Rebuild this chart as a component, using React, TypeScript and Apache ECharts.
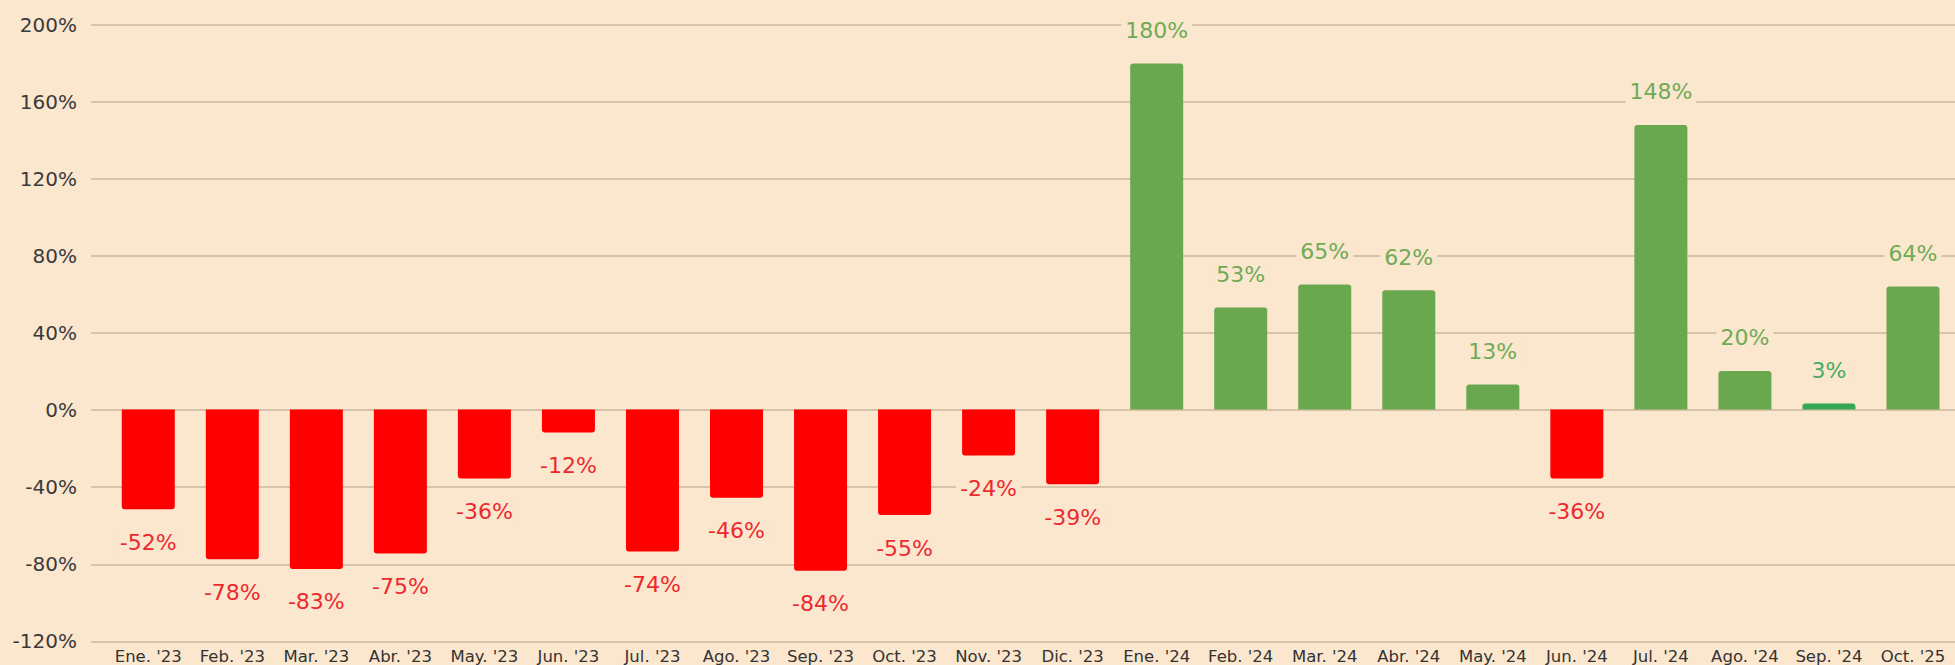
import React, { useEffect, useRef } from "react";
import * as echarts from "echarts";

const categories = [
  "Ene. '23", "Feb. '23", "Mar. '23", "Abr. '23", "May. '23", "Jun. '23",
  "Jul. '23", "Ago. '23", "Sep. '23", "Oct. '23", "Nov. '23", "Dic. '23",
  "Ene. '24", "Feb. '24", "Mar. '24", "Abr. '24", "May. '24", "Jun. '24",
  "Jul. '24", "Ago. '24", "Sep. '24", "Oct. '25",
];
const values = [
  -52, -78, -83, -75, -36, -12, -74, -46, -84, -55, -24, -39,
  180, 53, 65, 62, 13, -36, 148, 20, 3, 64,
];
const yMin = -120;
const yMax = 200;
const yStep = 40;

const BG = "#FBE6CE";
const RED = "#FF0000";
const GREEN = "#6AA84F";
const RED_LABEL = "#EC2A2E";
const GREEN_LABEL = "#6FAB56";
const accent: Record<string, { bar: string; label: string }> = {
  "Sep. '24": { bar: "#34A853", label: "#45AD65" },
};

export default function App() {
  const ref = useRef<HTMLDivElement>(null);
  useEffect(() => {
    if (!ref.current) return;
    const chart = echarts.init(ref.current, null, { renderer: "svg" });
    const top = 25;
    const bottom = 23.7;
    const data = values.map((v, i) => {
      const cat = categories[i];
      const neg = v < 0;
      const acc = accent[cat];
      return {
        value: v,
        itemStyle: {
          color: acc ? acc.bar : neg ? RED : GREEN,
          borderRadius: neg ? [0, 0, 3, 3] : [3, 3, 0, 0],
        },
        label: {
          position: neg ? "bottom" : "top",
          color: acc ? acc.label : neg ? RED_LABEL : GREEN_LABEL,
        },
      };
    });
    chart.setOption({
      animation: false,
      backgroundColor: BG,
      grid: [
        { left: 91, right: 0, top, bottom, containLabel: false },
        { left: 106.25, right: -1.45, top, bottom, containLabel: false },
      ],
      xAxis: [
        { type: "value", gridIndex: 0, show: false, min: 0, max: 1 },
        {
          type: "category",
          gridIndex: 1,
          data: categories,
          axisLine: { show: false },
          axisTick: { show: false },
          axisLabel: {
            interval: 0,
            margin: 8,
            color: "#333333",
            fontFamily: "DejaVu Sans",
            fontSize: 16.5,
          },
        },
      ],
      yAxis: [
        {
          type: "value",
          gridIndex: 0,
          min: yMin,
          max: yMax,
          interval: yStep,
          axisLine: { show: false },
          axisTick: { show: false },
          axisLabel: {
            formatter: "{value}%",
            margin: 14,
            color: "#3a3a3a",
            fontFamily: "DejaVu Sans",
            fontSize: 20,
          },
          splitLine: { lineStyle: { color: "#D6C3AA", width: 2 } },
        },
        {
          type: "value",
          gridIndex: 1,
          min: yMin,
          max: yMax,
          interval: yStep,
          show: false,
          splitLine: { show: false },
        },
      ],
      series: [
        {
          type: "bar",
          xAxisIndex: 1,
          yAxisIndex: 1,
          barWidth: 53,
          data,
          label: {
            show: true,
            distance: 20,
            formatter: (p: any) => `${p.value}%`,
            fontFamily: "DejaVu Sans",
            fontSize: 22,
            backgroundColor: BG,
            padding: [2, 4],
          },
        },
      ],
    });
    return () => chart.dispose();
  }, []);
  return (
    <div
      ref={ref}
      style={{ position: "fixed", left: 0, top: 0, width: 1955, height: 665 }}
    />
  );
}
